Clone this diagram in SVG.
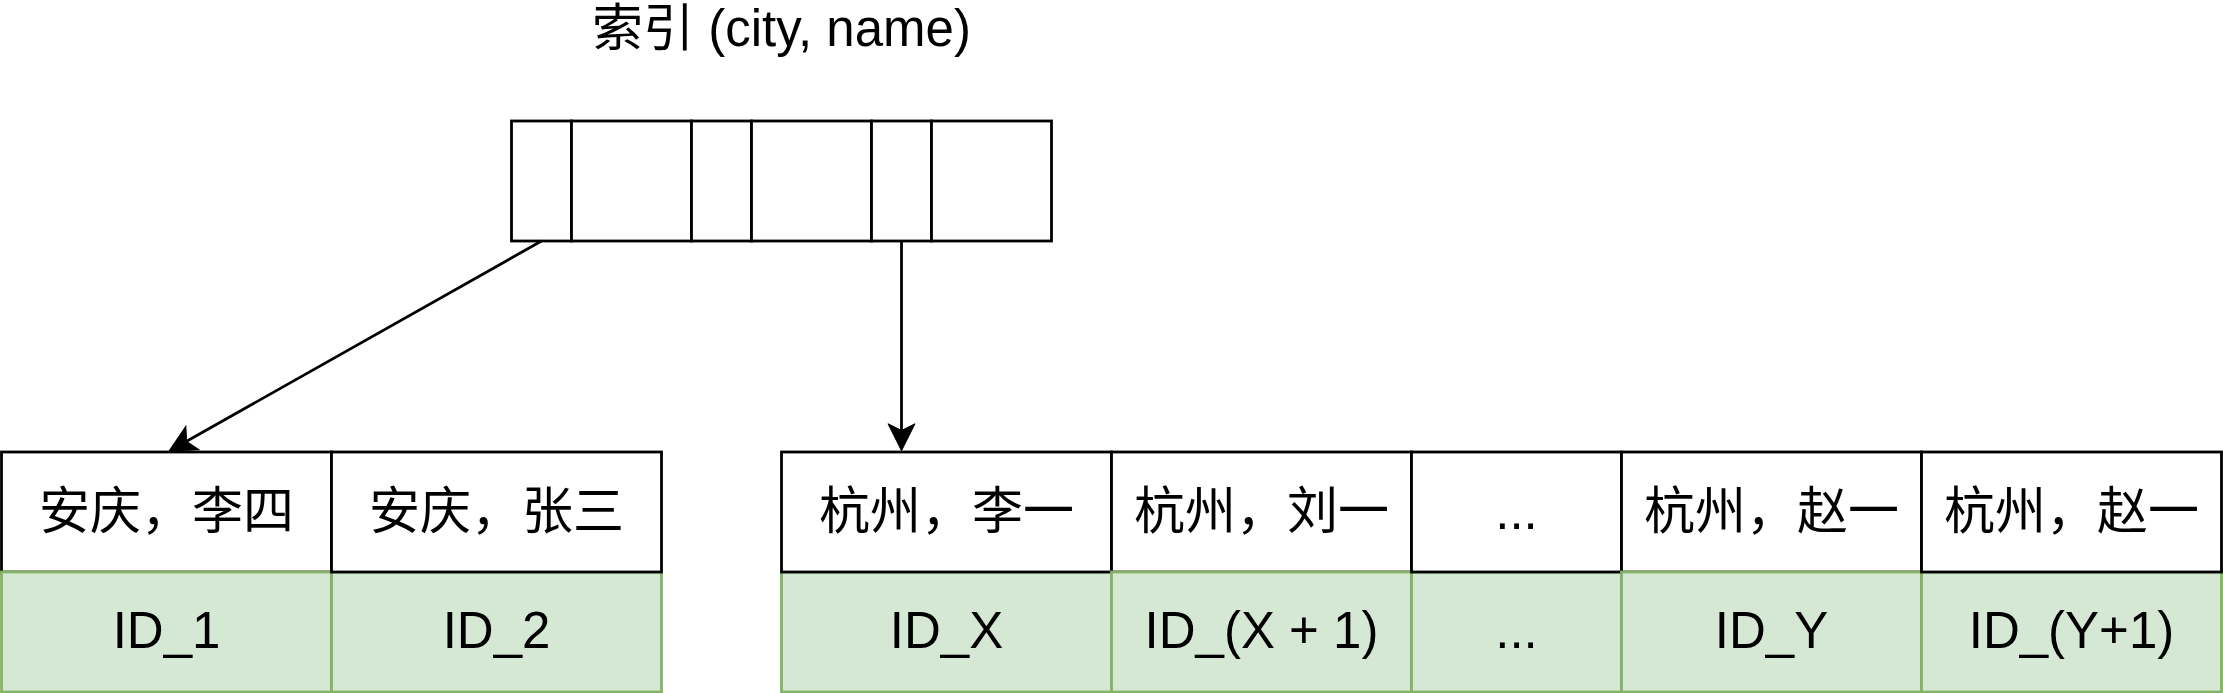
<svg xmlns="http://www.w3.org/2000/svg" width="2223" height="693" viewBox="0 0 2223 693">
<defs>
<marker id="arr" markerUnits="userSpaceOnUse" viewBox="0 -15 30 30" markerWidth="30" markerHeight="30" refX="6.75" refY="0" orient="auto" overflow="visible">
<path d="M0,-13.5 L27,0 L0,13.5 L6.75,0 Z" fill="#000" stroke="#000" stroke-width="1"/>
</marker>
</defs>
<style>
.w{fill:#fff;stroke:#000;stroke-width:2.8}
.g{fill:#d5e8d4;stroke:#82b366;stroke-width:2.8}
.gl{stroke:#82b366;stroke-width:2.8;fill:none}
.t{font-family:"Liberation Sans","Noto Sans CJK SC",sans-serif;font-size:51px;fill:#000;text-anchor:middle}
.e{stroke:#000;stroke-width:2.8;fill:none}
</style>
<rect width="2223" height="693" fill="#fff"/>

<g id="title">
<text class="t" x="781.5" y="46">索引 (city, name)</text>
</g>

<g id="index">
<rect class="w" x="511.5" y="121" width="60" height="120"/>
<rect class="w" x="571.5" y="121" width="120" height="120"/>
<rect class="w" x="691.5" y="121" width="60" height="120"/>
<rect class="w" x="751.5" y="121" width="120" height="120"/>
<rect class="w" x="871.5" y="121" width="60" height="120"/>
<rect class="w" x="931.5" y="121" width="120" height="120"/>
</g>

<g id="left-1">
<rect class="w" x="1.5" y="452" width="330" height="120"/>
<rect class="g" x="1.5" y="572" width="330" height="120"/>
<text class="t" x="166.5" y="529">安庆，李四</text>
<text class="t" x="166.5" y="648">ID_1</text>
</g>
<g id="left-2">
<rect class="g" x="331.5" y="572" width="330" height="120"/>
<rect class="w" x="331.5" y="452" width="330" height="120"/>
<text class="t" x="496.5" y="529">安庆，张三</text>
<text class="t" x="496.5" y="648">ID_2</text>
</g>

<g id="right-1">
<rect class="g" x="781.5" y="572" width="330" height="120"/>
<rect class="w" x="781.5" y="452" width="330" height="120"/>
<text class="t" x="946.5" y="529">杭州，李一</text>
<text class="t" x="946.5" y="648">ID_X</text>
</g>
<g id="right-2">
<rect class="w" x="1111.5" y="452" width="300" height="120"/>
<rect class="g" x="1111.5" y="572" width="300" height="120"/>
<text class="t" x="1261.5" y="529">杭州，刘一</text>
<text class="t" x="1261.5" y="648">ID_(X + 1)</text>
</g>
<g id="right-3">
<rect class="g" x="1411.5" y="572" width="210" height="120"/>
<rect class="w" x="1411.5" y="452" width="210" height="120"/>
<text class="t" x="1516.5" y="529">...</text>
<text class="t" x="1516.5" y="648">...</text>
</g>
<g id="right-4">
<rect class="w" x="1621.5" y="452" width="300" height="120"/>
<rect class="g" x="1621.5" y="572" width="300" height="120"/>
<text class="t" x="1771.5" y="529">杭州，赵一</text>
<text class="t" x="1771.5" y="648">ID_Y</text>
</g>
<g id="right-5">
<rect class="g" x="1921.5" y="572" width="300" height="120"/>
<rect class="w" x="1921.5" y="452" width="300" height="120"/>
<text class="t" x="2071.5" y="529">杭州，赵一</text>
<text class="t" x="2071.5" y="648">ID_(Y+1)</text>
</g>

<g id="connectors">
<line class="e" x1="541.5" y1="241" x2="186.6" y2="441.3" marker-end="url(#arr)"/>
<line class="e" x1="901.5" y1="241" x2="901.5" y2="430.5" marker-end="url(#arr)"/>
</g>
</svg>
